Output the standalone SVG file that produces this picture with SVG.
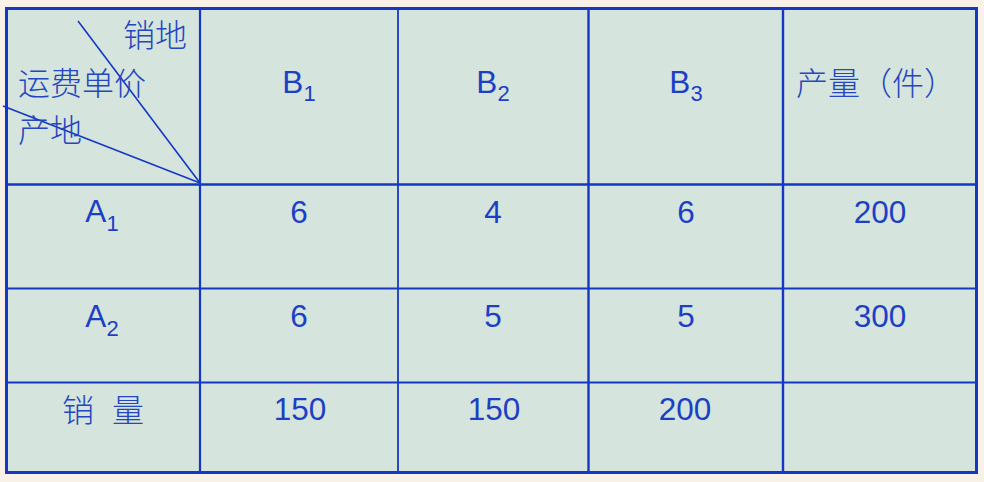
<svg xmlns="http://www.w3.org/2000/svg" width="984" height="482" viewBox="0 0 984 482">
<style>
.bg{fill:#f8f1e7}
.cell{fill:#d5e4dc}
.grid{stroke:#1538c4;fill:none}
.t{font-family:"Liberation Sans",Arial,sans-serif;font-size:31.5px;fill:#1c3fc6;text-anchor:middle}
.sub{font-size:22px}
.zh{font-family:"Noto Sans CJK SC","Noto Sans CJK TC",sans-serif;font-size:32px;font-weight:300;fill:#2446c0}
</style>
<rect class="bg" x="0" y="0" width="984" height="482"/>
<rect class="cell" x="6" y="8" width="971" height="465"/>
<g id="grid">
<line class="grid" x1="200" y1="8" x2="200" y2="473" stroke-width="2.2"/>
<line class="grid" x1="398" y1="8" x2="398" y2="473" stroke-width="1.8"/>
<line class="grid" x1="588.5" y1="8" x2="588.5" y2="473" stroke-width="2.4"/>
<line class="grid" x1="783" y1="8" x2="783" y2="473" stroke-width="2.4"/>
<line class="grid" x1="6" y1="184.5" x2="977" y2="184.5" stroke-width="2.4"/>
<line class="grid" x1="6" y1="288.5" x2="977" y2="288.5" stroke-width="1.8"/>
<line class="grid" x1="6" y1="382.5" x2="977" y2="382.5" stroke-width="2.2"/>
<rect class="grid" x="6.5" y="8.5" width="970" height="464" stroke-width="3"/>
</g>
<g id="connectors">
<line class="grid" x1="78" y1="21" x2="200" y2="183" stroke-width="1.6"/>
<line class="grid" x1="3" y1="106" x2="200" y2="183" stroke-width="1.6"/>
</g>
<g id="header-corner">
<text class="zh" x="123" y="47">销地</text>
<text class="zh" x="18" y="95">运费单价</text>
<text class="zh" x="18" y="142">产地</text>
</g>
<g id="h-b1"><text class="t" x="299" y="93">B<tspan class="sub" dy="8">1</tspan></text></g>
<g id="h-b2"><text class="t" x="493" y="93">B<tspan class="sub" dy="8">2</tspan></text></g>
<g id="h-b3"><text class="t" x="686" y="93">B<tspan class="sub" dy="8">3</tspan></text></g>
<g id="h-prod"><text class="zh" x="796" y="95">产量（件）</text></g>
<g id="r-a1"><text class="t" x="102" y="222">A<tspan class="sub" dy="9">1</tspan></text></g>
<g id="r-a2"><text class="t" x="102" y="327">A<tspan class="sub" dy="9">2</tspan></text></g>
<g id="r-sales"><text class="zh" x="62" y="422" xml:space="preserve" word-spacing="11">销 量</text></g>
<g id="c-a1-b1"><text class="t" x="299" y="223">6</text></g>
<g id="c-a1-b2"><text class="t" x="493" y="223">4</text></g>
<g id="c-a1-b3"><text class="t" x="686" y="223">6</text></g>
<g id="c-a1-p"><text class="t" x="880" y="223">200</text></g>
<g id="c-a2-b1"><text class="t" x="299" y="327">6</text></g>
<g id="c-a2-b2"><text class="t" x="493" y="327">5</text></g>
<g id="c-a2-b3"><text class="t" x="686" y="327">5</text></g>
<g id="c-a2-p"><text class="t" x="880" y="327">300</text></g>
<g id="c-s-b1"><text class="t" x="300" y="420">150</text></g>
<g id="c-s-b2"><text class="t" x="494" y="420">150</text></g>
<g id="c-s-b3"><text class="t" x="685" y="420">200</text></g>
</svg>
